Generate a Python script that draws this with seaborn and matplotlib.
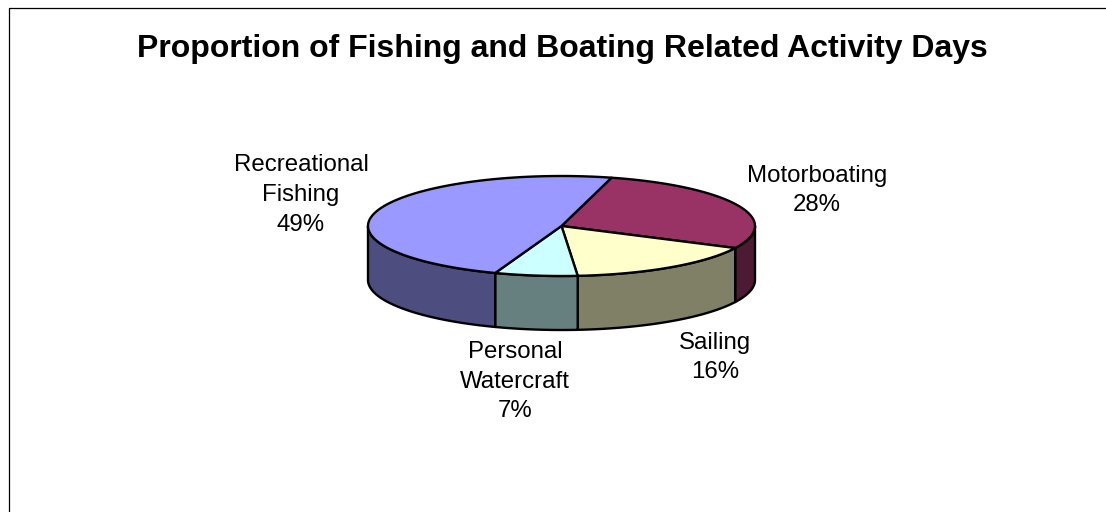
import numpy as np
import matplotlib
matplotlib.use("Agg")
import matplotlib.pyplot as plt
import seaborn as sns

categories = ["Recreational\nFishing", "Motorboating", "Sailing", "Personal\nWatercraft"]
shares = [48.6, 28.1, 16.4, 6.9]
pct_labels = ["49%", "28%", "16%", "7%"]
top_colors = ["#9999FF", "#993366", "#FFFFCC", "#CCFFFF"]
side_colors = ["#4D4D80", "#4D1A33", "#808066", "#668080"]
title = "Proportion of Fishing and Boating Related Activity Days"

sns.set_theme(style="white")
plt.rcParams["font.family"] = ["Liberation Sans", "DejaVu Sans"]

W, H = 1106, 512
fig = plt.figure(figsize=(W / 100, H / 100), dpi=100, facecolor="white")
ax = fig.add_axes([0, 0, 1, 1])
ax.set_xlim(0, W)
ax.set_ylim(H, 0)
ax.axis("off")

ax.plot([8.5, 8.5, W], [H, 8, 8], color="black", lw=0.9, solid_capstyle="butt")

cx, cy, rx, ry, depth = 561.5, 226, 193.5, 50, 54
start = 75.0

angles = np.array(shares, dtype=float) / sum(shares) * 360
order = [1, 2, 3, 0]
a = start
spans = {}
for i in order:
    spans[i] = (a - angles[i], a)
    a -= angles[i]

def pt(t):
    t = np.radians(t)
    return cx + rx * np.cos(t), cy - ry * np.sin(t)

for i in order:
    lo, hi = spans[i]
    ts = np.linspace(lo, hi, 300)
    ts = ts[np.sin(np.radians(ts)) <= 1e-9]
    if len(ts) < 2:
        continue
    xs, ys = pt(ts)
    ax.fill(np.r_[xs, xs[::-1]], np.r_[ys, ys[::-1] + depth],
            facecolor=side_colors[i], edgecolor="black", lw=1.7, zorder=2, joinstyle="round")

for i in order:
    lo, hi = spans[i]
    ts = np.linspace(lo, hi, 300)
    xs, ys = pt(ts)
    ax.fill(np.r_[cx, xs], np.r_[cy, ys], facecolor=top_colors[i],
            edgecolor="black", lw=1.7, zorder=3, joinstyle="round")

ax.text(562, 49, title, ha="center", va="center", fontsize=23, fontweight="bold", color="black")

fs = 17.3
label_pos = [(301, 195), (817, 190.5), (715, 357.5), (515, 381.5)]
for name, pct, (x, y) in zip(categories, pct_labels, label_pos):
    ax.text(x, y, f"{name}\n{pct}", ha="center", va="center", fontsize=fs,
            color="black", linespacing=1.47)

fig.savefig("out.png", dpi=100, facecolor="white")
